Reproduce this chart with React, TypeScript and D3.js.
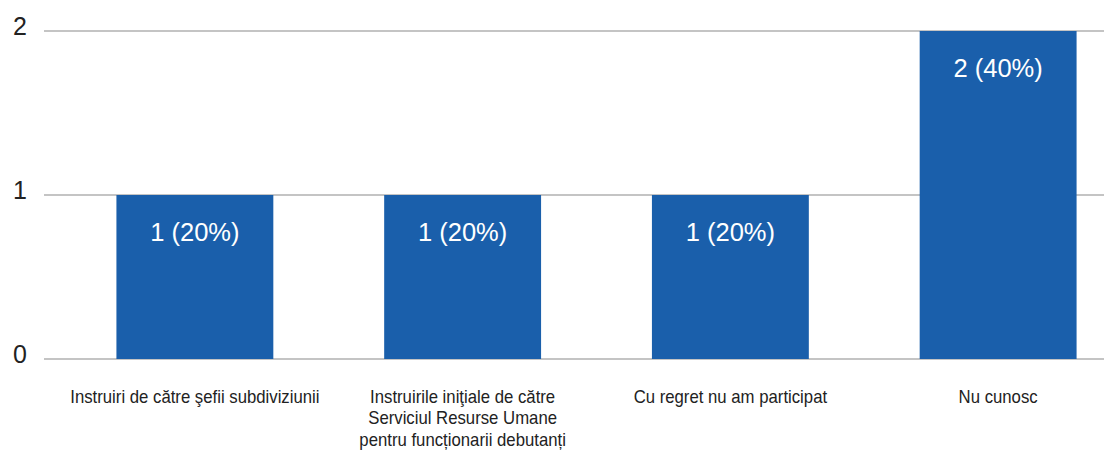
import React from "react";
import * as d3 from "d3";

const categories: string[] = [
  "Instruiri de către şefii subdiviziunii",
  "Instruirile iniţiale de către\nServiciul Resurse Umane\npentru funcționarii debutanți",
  "Cu regret nu am participat",
  "Nu cunosc",
];
const counts: number[] = [1, 1, 1, 2];
const percents: number[] = [20, 20, 20, 40];
const yTicks: number[] = [0, 1, 2];

const W = 1104;
const H = 453;
const FONT = "'Liberation Sans', Arial, sans-serif";

export default function App() {
  const x = d3
    .scaleBand<string>()
    .domain(categories)
    .range([61, 1132])
    .paddingInner(0.414)
    .paddingOuter(0.207);
  const y = d3.scaleLinear().domain([0, 2]).range([359, 31]);

  return (
    <svg
      width={W}
      height={H}
      style={{ position: "absolute", left: 0, top: 0, background: "#fff" }}
      fontFamily={FONT}
    >
      {yTicks.map((t) => (
        <g key={t}>
          <line x1={44} x2={W} y1={y(t)} y2={y(t)} stroke="#c4c4c4" strokeWidth={2} />
          <text x={27} y={y(t) + 4} textAnchor="end" fontSize={25} fill="#222">
            {t}
          </text>
        </g>
      ))}
      {categories.map((c, i) => {
        const bx = x(c)!;
        const bw = x.bandwidth();
        const cx = bx + bw / 2;
        return (
          <g key={c}>
            <rect x={bx} y={y(counts[i])} width={bw} height={y(0) - y(counts[i])} fill="#1a5fab" />
            <text x={cx} y={y(counts[i]) + 46} textAnchor="middle" fontSize={25.5} fill="#fff">
              {`${counts[i]} (${percents[i]}%)`}
            </text>
            <g transform={`translate(${cx},0) scale(0.93,1)`}>
              <text textAnchor="middle" fontSize={18} fill="#222">
                {c.split("\n").map((line, j) => (
                  <tspan key={j} x={0} y={403 + j * 21.5}>
                    {line}
                  </tspan>
                ))}
              </text>
            </g>
          </g>
        );
      })}
    </svg>
  );
}
